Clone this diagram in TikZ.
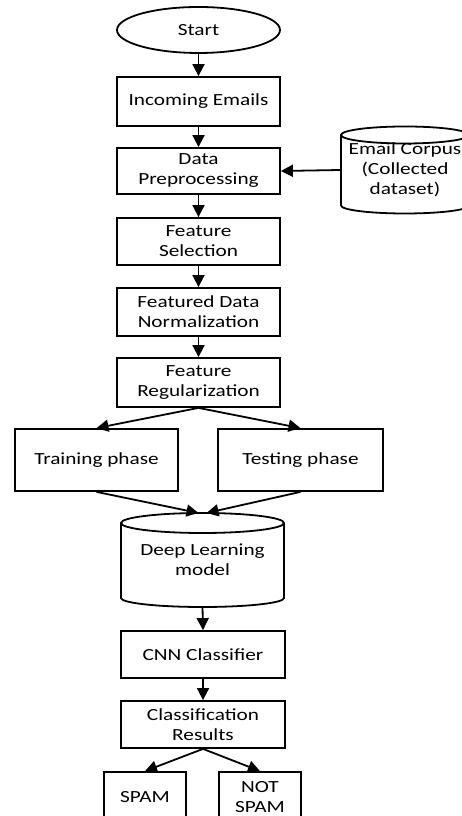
\documentclass[tikz,border=0pt]{standalone}
\usepackage{fontspec}
\setmainfont{Carlito}[FakeStretch=1.25]
\usetikzlibrary{arrows.meta,shapes.geometric}

\begin{document}
\begin{tikzpicture}[x=1pt,y=1pt,font=\fontsize{17}{20}\selectfont,
  procbox/.style={draw,line width=1.8pt,align=center,inner sep=0pt,minimum width=163pt},
  flowarr/.style={line width=1.8pt,-{Triangle[length=12pt,width=12pt]}}]
\useasboundingbox (0,0) rectangle (462,816);
\clip (0,0) rectangle (462,816);

% main column
\node[procbox,ellipse,minimum height=46pt] (start) at (198.5,786) {Start};
\node[procbox,minimum height=49pt] (mail) at (198.5,714.5) {Incoming Emails};
\node[procbox,minimum height=46pt] (prep) at (198.5,645) {Data\\Preprocessing};
\node[procbox,minimum height=47pt] (select) at (198.5,574.5) {Feature\\Selection};
\node[procbox,minimum height=48pt] (norm) at (198.5,504) {Featured Data\\Normalization};
\node[procbox,minimum height=49pt] (reg) at (198.5,433.5) {Feature\\Regularization};
\node[procbox,minimum height=62pt] (train) at (96.5,356) {Training phase};
\node[procbox,minimum height=62pt,minimum width=165pt] (test) at (300.5,356) {Testing phase};
\node[procbox,minimum height=47pt,minimum width=164pt] (cnn) at (203,161.5) {CNN Classifier};
\node[procbox,minimum height=47pt,minimum width=164pt] (result) at (203,91.5) {Classification\\Results};
\node[procbox,minimum height=50pt,minimum width=82pt] (spam) at (145,19) {SPAM};
\node[procbox,minimum height=50pt,minimum width=82pt] (notspam) at (260,19) {NOT\\SPAM};

% cylinders
\node[align=center,outer sep=0pt,minimum width=128pt,minimum height=87pt] (corpus) at (405,646) {Email Corpus\\(Collected\\dataset)};
\draw[line width=1.8pt] ([yshift=-8.5pt]corpus.north) ellipse [x radius=64pt,y radius=8.5pt];
\draw[line width=1.8pt] ([yshift=-8.5pt]corpus.north west) -- ([yshift=8pt]corpus.south west)
  arc[start angle=180,end angle=360,x radius=64pt,y radius=8pt] -- ([yshift=-8.5pt]corpus.north east);

\node[align=center,outer sep=0pt,minimum width=163pt,minimum height=94pt] (dl) at (202.5,256) {Deep Learning\\model};
\draw[line width=1.8pt] ([yshift=-10pt]dl.north) ellipse [x radius=81.5pt,y radius=10pt];
\draw[line width=1.8pt] ([yshift=-10pt]dl.north west) -- ([yshift=9pt]dl.south west)
  arc[start angle=180,end angle=360,x radius=81.5pt,y radius=9pt] -- ([yshift=-10pt]dl.north east);

% arrows
\draw[flowarr] (start) -- (mail);
\draw[flowarr] (mail) -- (prep);
\draw[flowarr] (corpus.west) -- (prep.east);
\draw[flowarr] (prep) -- (select);
\draw[flowarr] (select) -- (norm);
\draw[flowarr] (norm) -- (reg);
\draw[flowarr] (reg.south) -- (train.north);
\draw[flowarr] (reg.south) -- (test.north);
\draw[flowarr] (train.south) -- ([xshift=-4pt]dl.north);
\draw[flowarr] (test.south) -- ([xshift=4pt]dl.north);
\draw[flowarr] (dl.south) -- (cnn.north);
\draw[flowarr] (cnn) -- (result);
\draw[flowarr] (result.south) -- (spam.north);
\draw[flowarr] (result.south) -- (notspam.north);
\end{tikzpicture}
\end{document}
